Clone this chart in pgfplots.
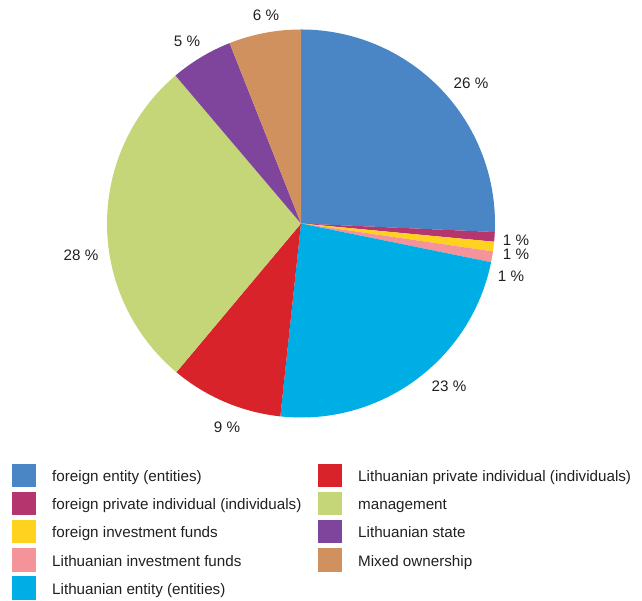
\documentclass[border=0pt]{standalone}
\usepackage{fontspec}
\setmainfont{Liberation Sans}
\usepackage{pgfplots}
\usepackage{pgfplotstable}
\pgfplotsset{compat=1.18}
\definecolor{c1}{HTML}{4A86C5}
\definecolor{c2}{HTML}{B5366E}
\definecolor{c3}{HTML}{FFD21F}
\definecolor{c4}{HTML}{F4949A}
\definecolor{c5}{HTML}{00AEE6}
\definecolor{c6}{HTML}{D9232A}
\definecolor{c7}{HTML}{C4D677}
\definecolor{c8}{HTML}{7F449B}
\definecolor{c9}{HTML}{D0915E}
\definecolor{txt}{HTML}{231F20}
\pgfplotstableread[col sep=comma]{
label,value,color
foreign entity (entities),25.7,c1
foreign private individual (individuals),0.8,c2
foreign investment funds,0.8,c3
Lithuanian investment funds,0.9,c4
Lithuanian entity (entities),23.5,c5
Lithuanian private individual (individuals),9.4,c6
management,27.7,c7
Lithuanian state,5.2,c8
Mixed ownership,6.0,c9
}\piedata
\begin{document}
\begin{tikzpicture}[every node/.style={font=\fontsize{15.2}{18}\selectfont, text=txt}]
\begin{axis}[
  hide axis, clip=false,
  x=1pt, y=1pt,
  xmin=0, xmax=642, ymin=0, ymax=601,
]
\path (axis cs:0,0) rectangle (axis cs:642,601);
\pgfplotstablegetrowsof{\piedata}
\pgfmathtruncatemacro\N{\pgfplotsretval-1}
\gdef\cum{90}
\pgfplotsforeachungrouped \i in {0,...,\N}{%
  \pgfplotstablegetelem{\i}{value}\of\piedata \let\v\pgfplotsretval
  \pgfplotstablegetelem{\i}{color}\of\piedata \let\c\pgfplotsretval
  \pgfmathsetmacro\endang{\cum - 3.6*\v}%
  \edef\temp{\noexpand\fill[\c] (axis cs:301,377.5) -- ++(\cum:194pt) arc[start angle=\cum, end angle=\endang, radius=194pt] -- cycle;}%
  \temp
  \global\let\cum\endang
}
% slice labels
\node at (axis cs:266,586) {6 \%};
\node at (axis cs:187,560) {5 \%};
\node at (axis cs:471,518) {26 \%};
\node at (axis cs:516,361) {1 \%};
\node at (axis cs:516,347) {1 \%};
\node at (axis cs:511,325) {1 \%};
\node at (axis cs:449,215) {23 \%};
\node at (axis cs:227,174) {9 \%};
\node at (axis cs:81,346) {28 \%};
% legend
\pgfplotsforeachungrouped \i in {0,...,\N}{%
  \pgfplotstablegetelem{\i}{label}\of\piedata \let\l\pgfplotsretval
  \pgfplotstablegetelem{\i}{color}\of\piedata \let\c\pgfplotsretval
  \ifnum\i<5
    \def\sx{12}\def\tx{52}\pgfmathsetmacro\yc{601-(475.5+28.1*\i)}
  \else
    \def\sx{318}\def\tx{358}\pgfmathsetmacro\yc{601-(475.5+28.1*(\i-5))}
  \fi
  \edef\temp{\noexpand\fill[\c] (axis cs:\sx,\yc-11.8) rectangle (axis cs:\sx+24,\yc+11.8);
    \noexpand\node[anchor=base west, inner sep=0pt] at (axis cs:\tx,\yc-6.3) {\unexpanded\expandafter{\l}};}%
  \temp
}
\end{axis}
\end{tikzpicture}
\end{document}
